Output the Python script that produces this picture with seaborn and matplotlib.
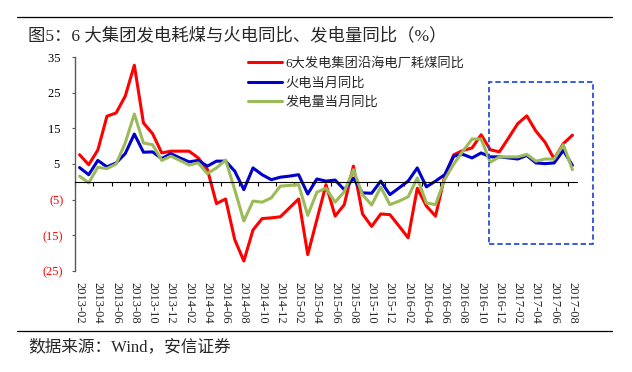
import numpy as np
import pandas as pd
import matplotlib
matplotlib.use('Agg')
import matplotlib.pyplot as plt
from matplotlib.lines import Line2D
from matplotlib.patches import Rectangle
import seaborn as sns

# 月份（2013-02 ~ 2017-08）
months = pd.period_range('2013-02', '2017-08', freq='M').strftime('%Y-%m').tolist()

# 6大发电集团沿海电厂耗煤同比
coal_6 = [7.6, 4.8, 8.9, 18.4, 19.3, 24.0, 32.7, 16.5, 13.5, 8.1,
          8.6, 8.6, 8.6, 6.7, 3.5, -6.1, -4.8, -16.2, -22.2, -13.5,
          -10.3, -10.1, -9.8, -7.3, -4.8, -20.4, -10.6, -0.8, -9.6, -6.4,
          4.4, -9.0, -12.5, -9.0, -9.2, -12.4, -15.7, -1.8, -6.8, -9.6,
          1.5, 7.6, 8.8, 9.5, 13.2, 9.0, 8.4, 12.3, 16.3, 18.5,
          14.2, 11.1, 6.4, 10.7, 13.1]
# 火电当月同比
thermal = [4.0, 2.0, 6.0, 4.2, 5.3, 7.9, 13.4, 8.3, 8.4, 6.5,
           7.9, 6.7, 5.6, 6.0, 4.4, 5.8, 5.8, 3.0, -2.2, 3.9,
           2.0, 0.6, 1.3, 1.6, 2.0, -3.4, 0.8, 0.2, 0.5, -2.2,
           1.0, -3.1, -3.2, 0.2, -3.6, -1.7, 0.2, 3.9, -1.4, 0.2,
           2.0, 7.2, 7.7, 6.7, 8.1, 7.0, 7.0, 6.7, 6.4, 7.4,
           5.3, 5.1, 5.3, 8.8, 4.6]
# 发电量当月同比
power = [1.6, -0.3, 4.1, 3.7, 5.0, 10.9, 19.0, 10.9, 10.4, 6.0,
         7.2, 6.0, 4.7, 5.3, 2.3, 3.9, 6.1, -2.2, -11.0, -5.4,
         -5.7, -4.5, -1.2, -1.0, -0.8, -9.4, -2.9, -1.8, -5.7, -2.8,
         3.4, -3.6, -6.5, -1.5, -6.4, -5.4, -4.2, 1.1, -5.9, -6.4,
         0.6, 5.0, 8.6, 12.0, 12.0, 5.5, 7.0, 7.0, 7.0, 7.7,
         5.8, 6.4, 6.4, 10.4, 3.4]

names = ['6大发电集团沿海电厂耗煤同比', '火电当月同比', '发电量当月同比']
colors = ['#FF0000', '#0000CC', '#9BBB59']
yticks = [35, 25, 15, 5, -5, -15, -25]

df = pd.DataFrame({'idx': range(len(months)),
                   names[0]: coal_6, names[1]: thermal, names[2]: power})
df = df.melt(id_vars='idx', var_name='series', value_name='value')

sns.set_style('white')
plt.rcParams['font.family'] = ['Liberation Serif', 'Noto Sans CJK SC']
plt.rcParams['axes.unicode_minus'] = False

fig = plt.figure(figsize=(6.32, 3.72), dpi=100)
ax = fig.add_axes([75/632, 1-271/372, 502/632, 214/372])

sns.lineplot(data=df, x='idx', y='value', hue='series', hue_order=names,
             palette=colors, linewidth=2.2, ax=ax, legend=False)

ax.set_xlim(-0.5, len(months)-0.5)
ax.set_ylim(-25, 35)
ax.set_xlabel('')
ax.set_ylabel('')

# y轴
ax.set_yticks(yticks)
ax.set_yticklabels([f'({abs(v)})' if v < 0 else f'{v} ' for v in yticks], fontsize=9)
for lab, v in zip(ax.get_yticklabels(), yticks):
    lab.set_color('#FF0000' if v < 0 else 'black')
ax.spines['left'].set_color('#595959')
ax.spines['left'].set_linewidth(1.0)
ax.tick_params(axis='y', direction='out', length=2.4, width=0.8, color='#595959', pad=6, left=True)
ax.spines['top'].set_visible(False)
ax.spines['right'].set_visible(False)

# x轴：零线 + 刻度
ax.spines['bottom'].set_position(('data', 0))
ax.spines['bottom'].set_color('black')
ax.spines['bottom'].set_linewidth(0.8)
ax.set_xticks(np.arange(-0.5, len(months)-0.5, 2))
ax.tick_params(axis='x', direction='out', length=2.7, width=0.8, color='black',
               labelbottom=False, bottom=True)

sec = ax.secondary_xaxis('bottom')
sec.set_xticks(range(0, len(months), 2))
sec.set_xticklabels(months[::2], rotation=-90, fontsize=9, va='top', ha='center')
sec.tick_params(axis='x', length=0, pad=8)
sec.spines['bottom'].set_visible(False)

# 图例
handles = [Line2D([0], [0], color=c, lw=2.2) for c in colors]
ax.legend(handles, names, loc='upper left', bbox_to_anchor=(0.345, 1.0),
          frameon=False, fontsize=9.5, handlelength=2.6, handletextpad=0.25,
          labelspacing=0.55, borderpad=0, borderaxespad=0)

# 虚线框
ax.add_patch(Rectangle((44.9, -17.3), 11.4, 45.3, fill=False, edgecolor='#1A3FD6',
                       lw=1.2, linestyle=(0, (3.2, 1.8)), clip_on=False, zorder=5))

# 标题、来源与分隔线
fig.add_artist(Line2D([17/632, 612/632], [1-17/372]*2, color='black', lw=0.9))
fig.add_artist(Line2D([17/632, 612/632], [1-331/372]*2, color='black', lw=0.9))
fig.text(28/632, 1-36/372, '图5：6 大集团发电耗煤与火电同比、发电量同比（%）',
         fontsize=12.5, ha='left', va='center')
fig.text(28/632, 1-347/372, '数据来源：Wind，安信证券', fontsize=12, ha='left', va='center')

fig.savefig('out.png', dpi=100)
